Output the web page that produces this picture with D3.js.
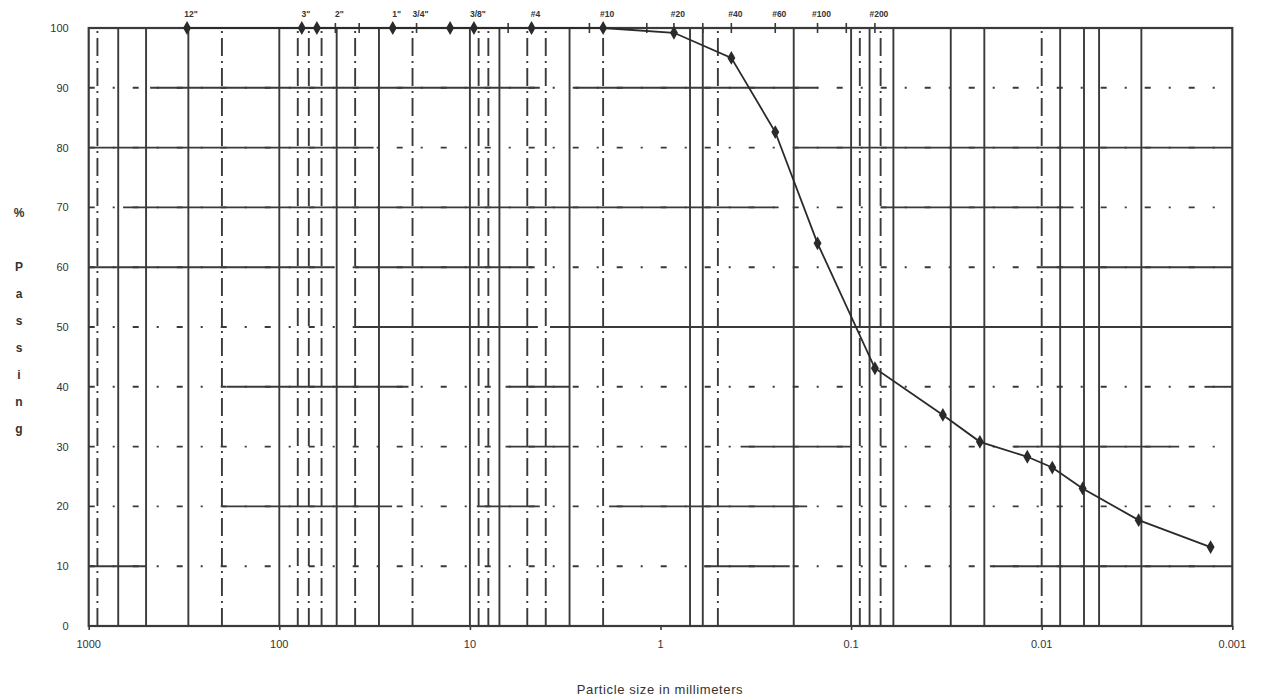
<!DOCTYPE html>
<html>
<head>
<meta charset="utf-8">
<script src="https://cdn.jsdelivr.net/npm/d3@7"></script>
<style>
  html, body { margin: 0; padding: 0; background: #fff; }
  svg { display: block; }
  text { font-family: "Liberation Sans", Arial, sans-serif; fill: #333; }
</style>
</head>
<body>
<svg id="chart" width="1261" height="700"></svg>
<script>
// Grain size distribution: particle size (mm) vs. percent passing
const particleSize = [304.8, 76.2, 63.5, 25.4, 12.7, 9.525, 4.75, 2.0, 0.85, 0.425, 0.25, 0.15, 0.075,
                      0.0330, 0.0211, 0.0119, 0.0088, 0.0061, 0.0031, 0.0013];
const percentPassing = [100, 100, 100, 100, 100, 100, 100, 100, 99.2, 95.0, 82.6, 64.0, 43.1,
                        35.3, 30.8, 28.3, 26.5, 23.0, 17.7, 13.2];

// Sieve designations along the top edge
const sieveLabels = ['12"', '3"', '2"', '1"', '3/4"', '3/8"', '#4', '#10', '#20', '#40', '#60', '#100', '#200'];
const sieveLabelSizes = [304.8, 76.2, 50.8, 25.4, 19.05, 9.525, 4.75, 2.0, 0.85, 0.425, 0.25, 0.15, 0.075];
const sieveTickSizes = [304.8, 76.2, 63.5, 50.8, 38.1, 25.4, 19.05, 12.7, 9.525, 6.3, 4.75, 2.36, 2.0,
                        1.18, 0.85, 0.6, 0.425, 0.25, 0.15, 0.106, 0.075];

// Axis ticks
const xTickValues = [1000, 100, 10, 1, 0.1, 0.01, 0.001];
const xTickLabels = ["1000", "100", "10", "1", "0.1", "0.01", "0.001"];
const yTickValues = [0, 10, 20, 30, 40, 50, 60, 70, 80, 90, 100];
const yTitleLetters = ["P", "a", "s", "s", "i", "n", "g"];

// Vertical grid lines (mm), continuous and broken
const gridSolid = [700, 500, 300, 100, 50, 30, 10, 7, 3, 0.7, 0.6, 0.2, 0.1, 0.08, 0.06, 0.03, 0.02,
                   0.008, 0.006, 0.005, 0.003];
const gridBroken = [900, 200, 80, 70, 60, 40, 20, 9, 8, 5, 4, 2, 0.5, 0.09, 0.07, 0.01];

// Horizontal grid lines: level (%) and its continuous runs as [from mm, to mm]
const hLevels = [10, 20, 30, 40, 50, 60, 70, 80, 90];
const hRuns = [
  [[1000, 500], [0.59, 0.21], [0.0187, 0.001]],
  [[198, 25.6], [9.2, 4.3], [1.86, 0.17]],
  [[6.5, 3.0], [0.38, 0.1], [0.014, 0.0019]],
  [[188, 21], [6.5, 3.0], [0.0014, 0.001]],
  [[39, 4.4], [3.8, 0.001]],
  [[1000, 52], [40, 4.7], [0.0105, 0.001]],
  [[660, 0.24], [0.07, 0.0068]],
  [[1000, 32], [0.2, 0.001]],
  [[476, 4.3], [2.8, 0.15]]
];

const svg = d3.select("#chart");
const lineColor = "#3a3a3a";
const textColor = "#333333";
const gridWidth = 1.9;

const x = d3.scaleLog().domain([1000, 0.001]).range([88.7, 1232.3]);
const y = d3.scaleLinear().domain([0, 100]).range([626, 28]);

const plot = svg.append("g");

// vertical grid
plot.selectAll("line.vs").data(gridSolid).join("line")
  .attr("x1", d => x(d)).attr("x2", d => x(d))
  .attr("y1", y(0)).attr("y2", y(100))
  .attr("stroke", lineColor).attr("stroke-width", gridWidth);

plot.selectAll("line.vb").data(gridBroken).join("line")
  .attr("x1", d => x(d)).attr("x2", d => x(d))
  .attr("y1", y(0)).attr("y2", y(100))
  .attr("stroke", lineColor).attr("stroke-width", gridWidth)
  .attr("stroke-dasharray", "18,5,2,5");

// horizontal grid: sparse broken base line plus continuous runs
plot.selectAll("line.hb").data(hLevels).join("line")
  .attr("x1", x(1000)).attr("x2", x(0.001))
  .attr("y1", d => y(d)).attr("y2", d => y(d))
  .attr("stroke", lineColor).attr("stroke-width", gridWidth)
  .attr("stroke-dasharray", "6,18,2,18");

hLevels.forEach((lvl, i) => {
  plot.selectAll(null).data(hRuns[i]).join("line")
    .attr("x1", d => x(d[0])).attr("x2", d => x(d[1]))
    .attr("y1", y(lvl)).attr("y2", y(lvl))
    .attr("stroke", lineColor).attr("stroke-width", gridWidth);
});

// frame
plot.append("rect")
  .attr("x", x(1000)).attr("y", y(100))
  .attr("width", x(0.001) - x(1000)).attr("height", y(0) - y(100))
  .attr("fill", "none").attr("stroke", lineColor).attr("stroke-width", 2.2);

// sieve ticks and labels on the top edge
plot.selectAll("line.st").data(sieveTickSizes).join("line")
  .attr("x1", d => x(d)).attr("x2", d => x(d))
  .attr("y1", y(100) - 5).attr("y2", y(100) + 5)
  .attr("stroke", lineColor).attr("stroke-width", 1.6);

svg.selectAll("text.sieve").data(sieveLabels).join("text")
  .attr("class", "sieve")
  .attr("x", (d, i) => x(sieveLabelSizes[i]) + 4)
  .attr("y", 17)
  .attr("text-anchor", "middle")
  .attr("font-size", 8.5)
  .attr("font-weight", "bold")
  .attr("fill", textColor)
  .text(d => d);

// x axis: tick marks from d3.axisBottom, labels drawn as plain text
const xAxis = d3.axisBottom(x)
  .tickValues(xTickValues)
  .tickSize(4)
  .tickFormat("");
const gx = svg.append("g").attr("transform", `translate(0,${y(0)})`).call(xAxis);
gx.select(".domain").remove();
gx.selectAll("line").attr("stroke", lineColor).attr("stroke-width", 1.6);

svg.selectAll("text.xl").data(xTickValues).join("text")
  .attr("class", "xl")
  .attr("x", d => x(d))
  .attr("y", y(0) + 22)
  .attr("text-anchor", "middle")
  .attr("font-size", 11)
  .attr("fill", textColor)
  .text((d, i) => xTickLabels[i]);

// y axis labels
svg.selectAll("text.yl").data(yTickValues).join("text")
  .attr("class", "yl")
  .attr("x", x(1000) - 20)
  .attr("y", d => y(d) + 4)
  .attr("text-anchor", "end")
  .attr("font-size", 11)
  .attr("fill", textColor)
  .text(d => d);

// axis titles
svg.append("text")
  .attr("x", 660).attr("y", 694)
  .attr("text-anchor", "middle")
  .attr("font-size", 13)
  .attr("letter-spacing", 0.6)
  .attr("fill", textColor)
  .text("Particle size in millimeters");

svg.append("text")
  .attr("x", 19).attr("y", 217)
  .attr("text-anchor", "middle")
  .attr("font-size", 12).attr("font-weight", "bold")
  .attr("fill", textColor)
  .text("%");

svg.selectAll("text.ytl").data(yTitleLetters).join("text")
  .attr("class", "ytl")
  .attr("x", 19)
  .attr("y", (d, i) => 271 + i * 27)
  .attr("text-anchor", "middle")
  .attr("font-size", 12).attr("font-weight", "bold")
  .attr("fill", textColor)
  .text(d => d);

// gradation curve
const pts = particleSize.map((s, i) => [s, percentPassing[i]]);
plot.append("path")
  .datum(pts)
  .attr("fill", "none")
  .attr("stroke", "#2a2a2a")
  .attr("stroke-width", 1.8)
  .attr("d", d3.line().x(d => x(d[0])).y(d => y(d[1])));

plot.selectAll("path.pt").data(pts).join("path")
  .attr("transform", d => `translate(${x(d[0])},${y(d[1])})`)
  .attr("d", d3.symbol().type(d3.symbolDiamond).size(55))
  .attr("fill", "#2a2a2a");
</script>
</body>
</html>
